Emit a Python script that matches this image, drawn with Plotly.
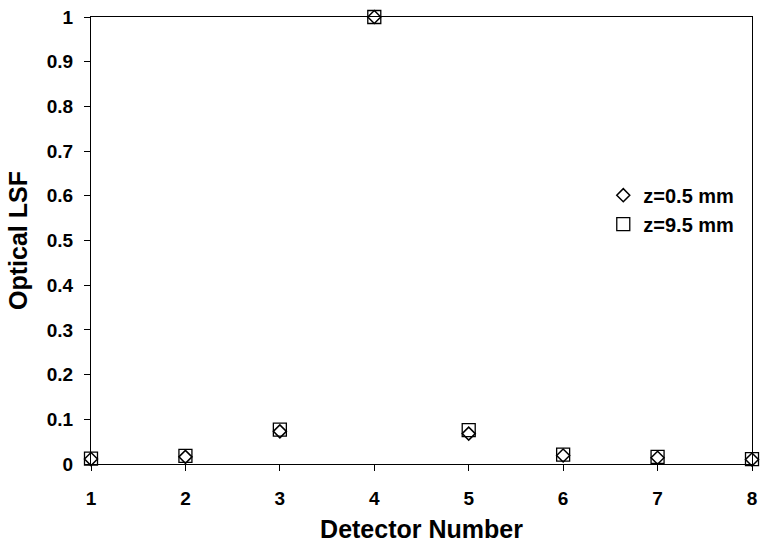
import plotly.graph_objects as go

detectors = [1, 2, 3, 4, 5, 6, 7, 8]
lsf_z05 = [0.011, 0.016, 0.073, 1.0, 0.068, 0.019, 0.014, 0.010]
lsf_z95 = [0.012, 0.018, 0.077, 1.0, 0.076, 0.021, 0.016, 0.011]
y_ticks = [0, 0.1, 0.2, 0.3, 0.4, 0.5, 0.6, 0.7, 0.8, 0.9, 1]
x_ticks = detectors

fam = "Liberation Sans, Arial, sans-serif"

def f(size):
    return dict(size=size, family=fam, color="black", weight="bold")

fig = go.Figure()
fig.add_trace(go.Scatter(
    x=detectors, y=lsf_z05, mode="markers", name="z=0.5 mm", legendgroup="a",
    marker=dict(symbol="diamond-open", size=10, color="black", line=dict(width=1.5, color="black")),
    cliponaxis=False))
fig.add_trace(go.Scatter(
    x=detectors, y=lsf_z95, mode="markers", name="z=9.5 mm", legendgroup="b",
    marker=dict(symbol="square-open", size=13, color="black", line=dict(width=1.3, color="black")),
    cliponaxis=False))

fig.update_layout(
    width=764, height=545,
    margin=dict(l=91, r=7, t=16, b=81),
    paper_bgcolor="white", plot_bgcolor="white",
    showlegend=True,
    legend=dict(x=0.775, y=0.645, xanchor="left", yanchor="top",
                font=f(20), bgcolor="rgba(0,0,0,0)", itemwidth=30,
                tracegroupgap=7, traceorder="normal"),
    font=dict(family=fam, color="black"),
)
fig.update_xaxes(
    range=[1, 8], tickvals=x_ticks, ticks="outside", ticklen=6, tickcolor="black",
    showline=True, linecolor="black", linewidth=1, mirror=True, showgrid=False, zeroline=False,
    tickfont=f(19), ticklabelstandoff=11,
    title=dict(text="Detector Number", font=f(25), standoff=12),
)
fig.update_yaxes(
    range=[0, 1], tickvals=y_ticks, ticks="outside", ticklen=6, tickcolor="black",
    showline=True, linecolor="black", linewidth=1, mirror=True, showgrid=False, zeroline=False,
    tickfont=f(19), ticklabelstandoff=7,
    title=dict(text="Optical LSF", font=f(25), standoff=12),
)

fig.write_html("out.html")
